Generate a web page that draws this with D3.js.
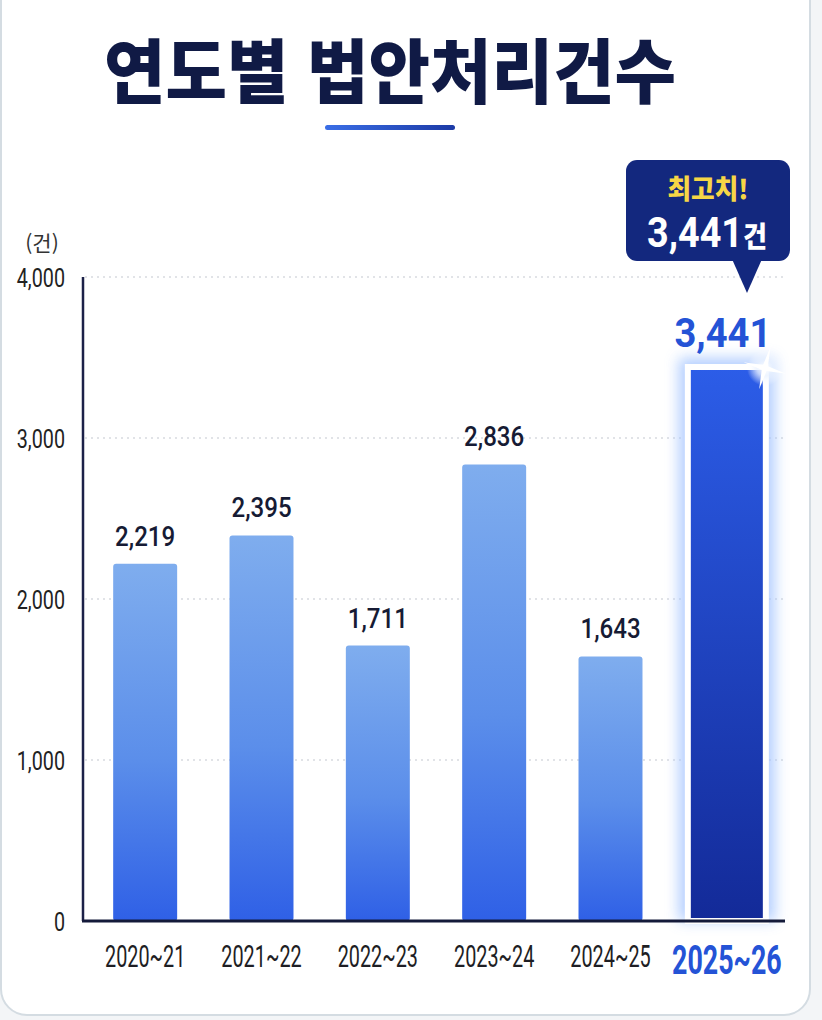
<!DOCTYPE html>
<html lang="ko">
<head>
<meta charset="utf-8">
<script src="https://cdn.jsdelivr.net/npm/d3@7"></script>
<style>
	html, body { margin: 0; padding: 0; background: #f3f5f7; }
	#chart { width: 822px; height: 1020px; }
</style>
</head>
<body>
<div id="chart"></div>
<script>
// data
const title = "연도별 법안처리건수"
const unitLabel = "(건)"
const seasons = ["2020~21", "2021~22", "2022~23", "2023~24", "2024~25", "2025~26"]
const counts = [2219, 2395, 1711, 2836, 1643, 3441]
const yTicks = [0, 1000, 2000, 3000, 4000]
const highlightIndex = 5
const calloutTop = "최고치!"
const calloutUnit = "건"

const W = 822
const H = 1020
const fmt = d3.format(",")
const num = "Roboto, 'Liberation Sans', sans-serif"
const kr = "'Noto Sans CJK KR', 'Noto Sans', sans-serif"

const svg = d3.select("#chart")
	.append("svg")
	.attr("width", W)
	.attr("height", H)

const defs = svg.append("defs")

// bar gradients
const normalGrad = defs.append("linearGradient")
	.attr("id", "barGrad")
	.attr("x1", 0).attr("y1", 0).attr("x2", 0).attr("y2", 1)
normalGrad.append("stop").attr("offset", "0%").attr("stop-color", "#7fadee")
normalGrad.append("stop").attr("offset", "55%").attr("stop-color", "#5b8eea")
normalGrad.append("stop").attr("offset", "100%").attr("stop-color", "#2f60e6")

const hiGrad = defs.append("linearGradient")
	.attr("id", "hiGrad")
	.attr("x1", 0).attr("y1", 0).attr("x2", 0).attr("y2", 1)
hiGrad.append("stop").attr("offset", "0%").attr("stop-color", "#2c5de8")
hiGrad.append("stop").attr("offset", "100%").attr("stop-color", "#132a98")

const lineGrad = defs.append("linearGradient")
	.attr("id", "lineGrad")
	.attr("x1", 0).attr("y1", 0).attr("x2", 1).attr("y2", 0)
lineGrad.append("stop").attr("offset", "0%").attr("stop-color", "#3a6ee6")
lineGrad.append("stop").attr("offset", "100%").attr("stop-color", "#1c3aa6")

const glow = defs.append("filter")
	.attr("id", "glow")
	.attr("x", "-50%").attr("y", "-20%")
	.attr("width", "200%").attr("height", "140%")
glow.append("feGaussianBlur").attr("stdDeviation", 7)

const sparkGrad = defs.append("radialGradient").attr("id", "sparkGrad")
sparkGrad.append("stop").attr("offset", "0%").attr("stop-color", "#ffffff").attr("stop-opacity", 1)
sparkGrad.append("stop").attr("offset", "45%").attr("stop-color", "#eaf2ff").attr("stop-opacity", 0.8)
sparkGrad.append("stop").attr("offset", "100%").attr("stop-color", "#ffffff").attr("stop-opacity", 0)

// card background
svg.append("rect")
	.attr("x", 1)
	.attr("y", -30)
	.attr("width", 809)
	.attr("height", 1045)
	.attr("rx", 26)
	.attr("fill", "#ffffff")
	.attr("stroke", "#d4dce2")
	.attr("stroke-width", 2)

// text helper: horizontally squeezed text
function squeezed(g, x, y, str, sx) {
	return g.append("text")
		.attr("transform", `translate(${x},${y}) scale(${sx},1)`)
		.text(str)
}

// title
squeezed(svg, 390, 98, title, 0.955)
	.attr("text-anchor", "middle")
	.style("font-family", kr)
	.style("font-weight", 900)
	.style("font-size", "70px")
	.style("fill", "#101a45")

svg.append("rect")
	.attr("x", 325)
	.attr("y", 125)
	.attr("width", 130)
	.attr("height", 5)
	.attr("rx", 2.5)
	.attr("fill", "url(#lineGrad)")

// scales
const x = d3.scaleBand()
	.domain(seasons)
	.range([87, 785])
	.paddingInner(0.45)
	.paddingOuter(0.225)

const y = d3.scaleLinear()
	.domain([0, 4000])
	.range([921, 277])

// gridlines
svg.append("g")
	.selectAll("line")
	.data(yTicks.filter((d) => d > 0))
	.join("line")
	.attr("x1", 85)
	.attr("x2", 785)
	.attr("y1", (d) => y(d))
	.attr("y2", (d) => y(d))
	.attr("stroke", "#c3c8d0")
	.attr("stroke-width", 1.2)
	.attr("stroke-dasharray", "2,4")

// y tick labels
const yLab = svg.append("g")
yTicks.forEach((t) => {
	squeezed(yLab, 65, y(t) + 10, fmt(t), 0.76)
		.attr("text-anchor", "end")
		.style("font-family", num)
		.style("font-size", "26px")
		.style("fill", "#222")
})

svg.append("text")
	.attr("x", 42)
	.attr("y", 251)
	.attr("text-anchor", "middle")
	.style("font-family", kr)
	.style("font-size", "21px")
	.style("fill", "#333")
	.text(unitLabel)

// bars
const bars = svg.append("g")
counts.forEach((v, i) => {
	const cx = x(seasons[i]) + x.bandwidth() / 2
	if (i === highlightIndex) {
		const bw = 78
		bars.append("rect")
			.attr("x", cx - bw / 2 - 9)
			.attr("y", y(v) - 9)
			.attr("width", bw + 18)
			.attr("height", y(0) - y(v) + 9)
			.attr("fill", "#a6c6ff")
			.attr("opacity", 0.85)
			.attr("filter", "url(#glow)")
		bars.append("rect")
			.attr("x", cx - bw / 2)
			.attr("y", y(v))
			.attr("width", bw)
			.attr("height", y(0) - y(v))
			.attr("fill", "url(#hiGrad)")
			.attr("stroke", "#ffffff")
			.attr("stroke-width", 6)
	} else {
		bars.append("rect")
			.attr("x", x(seasons[i]))
			.attr("y", y(v))
			.attr("width", x.bandwidth())
			.attr("height", y(0) - y(v))
			.attr("rx", 3)
			.attr("fill", "url(#barGrad)")
	}
})

// axes lines
svg.append("line")
	.attr("x1", 83).attr("x2", 83)
	.attr("y1", y(4000)).attr("y2", y(0))
	.attr("stroke", "#1c2148")
	.attr("stroke-width", 2.5)

svg.append("line")
	.attr("x1", 82).attr("x2", 785)
	.attr("y1", y(0)).attr("y2", y(0))
	.attr("stroke", "#141a3a")
	.attr("stroke-width", 3)

// value labels
const valLab = svg.append("g")
counts.forEach((v, i) => {
	const cx = x(seasons[i]) + x.bandwidth() / 2
	if (i === highlightIndex) {
		squeezed(valLab, cx - 4, y(v) - 20, fmt(v), 0.93)
			.attr("text-anchor", "middle")
			.style("font-family", num)
			.style("font-weight", 700)
			.style("font-size", "41px")
			.style("fill", "#2453d6")
	} else {
		squeezed(valLab, cx, y(v) - 18, fmt(v), 0.86)
			.attr("text-anchor", "middle")
			.style("font-family", num)
			.style("font-weight", 500)
			.style("font-size", "28px")
			.style("fill", "#161b34")
	}
})

// x labels
const xLab = svg.append("g")
seasons.forEach((s, i) => {
	const cx = x(s) + x.bandwidth() / 2
	if (i === highlightIndex) {
		squeezed(xLab, cx, 974, s, 0.67)
			.attr("text-anchor", "middle")
			.style("font-family", num)
			.style("font-weight", 700)
			.style("font-size", "40px")
			.style("fill", "#2453d6")
	} else {
		squeezed(xLab, cx, 967, s, 0.62)
			.attr("text-anchor", "middle")
			.style("font-family", num)
			.style("font-size", "32px")
			.style("fill", "#1e1e24")
	}
})

// sparkle at the top corner of the record bar
const hiCx = x(seasons[highlightIndex]) + x.bandwidth() / 2
const sx = hiCx + 38
const sy = y(counts[highlightIndex]) + 1
svg.append("circle")
	.attr("cx", sx).attr("cy", sy).attr("r", 18)
	.attr("fill", "url(#sparkGrad)")
const star = d3.path()
const rays = [[0, -22], [2.5, -2.5], [22, 0], [2.5, 2.5], [0, 22], [-2.5, 2.5], [-22, 0], [-2.5, -2.5]]
star.moveTo(sx + rays[0][0], sy + rays[0][1])
rays.slice(1).forEach((p) => star.lineTo(sx + p[0], sy + p[1]))
star.closePath()
svg.append("path")
	.attr("d", star.toString())
	.attr("fill", "#ffffff")
	.attr("transform", `rotate(15,${sx},${sy})`)

// callout
const co = svg.append("g")
co.append("rect")
	.attr("x", 626)
	.attr("y", 160)
	.attr("width", 164)
	.attr("height", 101)
	.attr("rx", 11)
	.attr("fill", "#13287e")
co.append("path")
	.attr("d", d3.line()([[732, 259], [762, 259], [747, 293]]))
	.attr("fill", "#13287e")

squeezed(co, 708, 199, calloutTop, 0.95)
	.attr("text-anchor", "middle")
	.style("font-family", kr)
	.style("font-weight", 900)
	.style("font-size", "27px")
	.style("fill", "#f6d646")

const coVal = squeezed(co, 647, 247, "", 0.9)
	.style("font-family", num)
	.style("font-weight", 700)
	.style("font-size", "42px")
	.style("fill", "#ffffff")
coVal.append("tspan").text(fmt(counts[highlightIndex]))
coVal.append("tspan")
	.attr("dx", 0)
	.style("font-family", kr)
	.style("font-weight", 900)
	.style("font-size", "29px")
	.text(calloutUnit)
</script>
</body>
</html>
